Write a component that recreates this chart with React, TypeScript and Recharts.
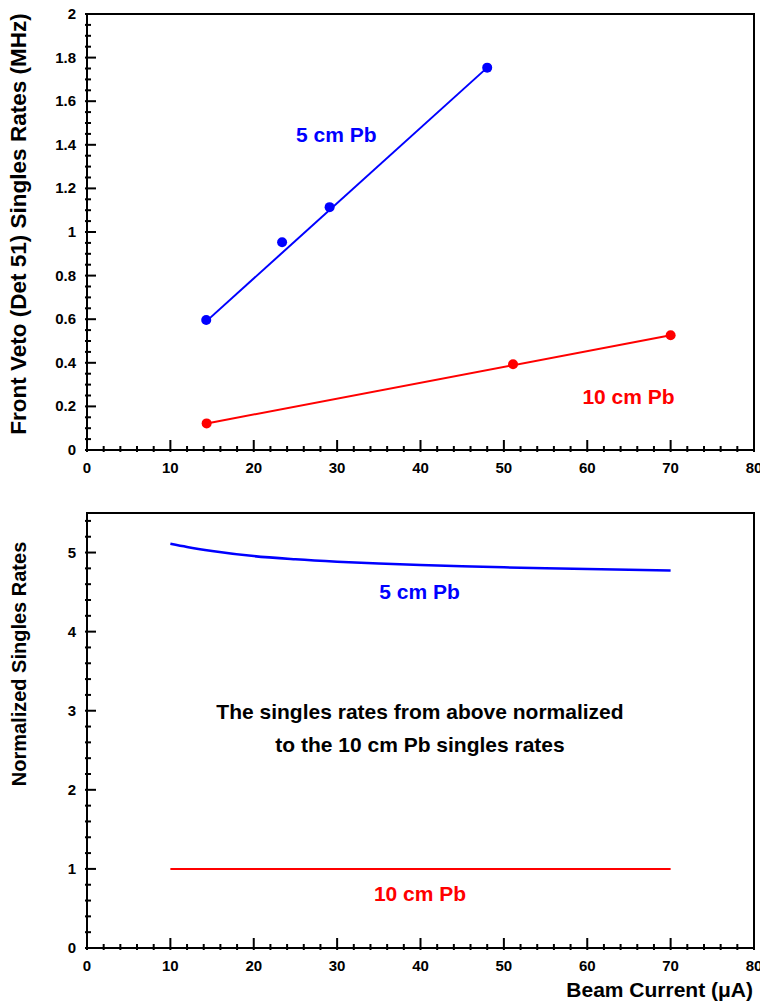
import { ComposedChart, XAxis, YAxis, Line, Scatter, ReferenceArea, ReferenceDot, Label } from 'recharts';

const FONT = '"Liberation Sans", Arial, Helvetica, sans-serif';
const BLUE = '#0000ff';
const RED = '#ff0000';

// top panel: measured singles rates (MHz) vs beam current (uA)
const current5cm = [14.3, 23.4, 29.1, 48.0];
const rate5cm = [0.596, 0.953, 1.114, 1.754];
const current10cm = [14.35, 51.1, 70.0];
const rate10cm = [0.122, 0.393, 0.526];
// straight-line fits, drawn between first and last point
const fit5cmX = [14.3, 48.0];
const fit5cmY = [0.59, 1.754];
const fit10cmX = [14.35, 70.0];
const fit10cmY = [0.122, 0.526];

// bottom panel: rates normalized to the 10 cm Pb fit
const ratioX = [10, 12, 15, 20, 25, 30, 35, 40, 45, 50, 55, 60, 65, 70];
const ratio5cm = [5.11, 5.07, 5.02, 4.955, 4.915, 4.885, 4.862, 4.843, 4.827, 4.813, 4.801, 4.791, 4.782, 4.774];
const ratio10cmX = [10, 70];
const ratio10cm = [1, 1];

// axis ticks
const xTicks = [0, 2, 4, 6, 8, 10, 12, 14, 16, 18, 20, 22, 24, 26, 28, 30, 32, 34, 36, 38, 40, 42, 44, 46, 48, 50, 52, 54, 56, 58, 60, 62, 64, 66, 68, 70, 72, 74, 76, 78, 80];
const xMajor = [0, 10, 20, 30, 40, 50, 60, 70, 80];
const yTopMajor = [0, 0.2, 0.4, 0.6, 0.8, 1, 1.2, 1.4, 1.6, 1.8, 2];
const yBotMajor = [0, 1, 2, 3, 4, 5];

const steps = (max: number, step: number) =>
  Array.from({ length: Math.floor(max / step + 1e-6) + 1 }, (_, i) => Math.round(i * step * 1000) / 1000);
const yTopTicks = steps(2, 0.05);
const yBotTicks = steps(5.5, 0.2);

const zip = (xs: number[], ys: number[]) => xs.map((x, i) => ({ x, y: ys[i] }));

const isIn = (list: number[], v: number) => list.some((m) => Math.abs(m - v) < 1e-6);

const XTick = ({ x, y, payload }: any) => {
  const major = isIn(xMajor, payload.value);
  return (
    <g>
      <line x1={x} x2={x} y1={y} y2={y - (major ? 12 : 6)} stroke="#000" strokeWidth={2} />
      {major && (
        <text x={x} y={y + 21} textAnchor="middle" fontFamily={FONT} fontWeight="bold" fontSize={15} fill="#000">
          {payload.value}
        </text>
      )}
    </g>
  );
};

const makeYTick = (majors: number[]) => ({ x, y, payload }: any) => {
  const major = isIn(majors, payload.value);
  return (
    <g>
      <line x1={x} x2={x + (major ? 11 : 6)} y1={y} y2={y} stroke="#000" strokeWidth={2} />
      {major && (
        <text x={x - 9} y={y + 5} textAnchor="end" fontFamily={FONT} fontWeight="bold" fontSize={15} fill="#000">
          {payload.value}
        </text>
      )}
    </g>
  );
};

const YTopTick = makeYTick(yTopMajor);
const YBotTick = makeYTick(yBotMajor);

const yTitle = (text: string, cy: number, size: number) => () => (
  <text
    x={26}
    y={cy}
    transform={`rotate(-90 26 ${cy})`}
    textAnchor="middle"
    fontFamily={FONT}
    fontWeight="bold"
    fontSize={size}
    fill="#000"
  >
    {text}
  </text>
);

const note = (value: string, fill: string) => ({
  value,
  position: 'center' as const,
  fill,
  fontSize: 21,
  fontWeight: 'bold',
  fontFamily: FONT,
});

const dot = (color: string) => (props: any) => <circle cx={props.cx} cy={props.cy} r={5} fill={color} />;

export default function App() {
  return (
    <div style={{ position: 'absolute', left: 0, top: 0, width: 760, height: 1002, background: '#fff' }}>
      <ComposedChart width={760} height={490} margin={{ top: 14, right: 6, left: 0, bottom: 0 }}>
        <XAxis
          type="number"
          dataKey="x"
          domain={[0, 80]}
          ticks={xTicks}
          interval={0}
          tickSize={0}
          tickLine={false}
          tick={<XTick />}
          height={40}
          axisLine={{ stroke: '#000', strokeWidth: 2 }}
        />
        <YAxis
          type="number"
          dataKey="y"
          domain={[0, 2]}
          ticks={yTopTicks}
          interval={0}
          tickSize={0}
          tickLine={false}
          tick={<YTopTick />}
          width={87}
          axisLine={{ stroke: '#000', strokeWidth: 2 }}
        >
          <Label content={yTitle('Front Veto (Det 51) Singles Rates (MHz)', 224, 22.5)} />
        </YAxis>
        <ReferenceArea x1={0} x2={80} y1={0} y2={2} fill="none" stroke="#000" strokeWidth={2} ifOverflow="visible" />
        <Line data={zip(fit5cmX, fit5cmY)} dataKey="y" stroke={BLUE} strokeWidth={2} dot={false} isAnimationActive={false} />
        <Line data={zip(fit10cmX, fit10cmY)} dataKey="y" stroke={RED} strokeWidth={2} dot={false} isAnimationActive={false} />
        <Scatter data={zip(current5cm, rate5cm)} dataKey="y" shape={dot(BLUE)} isAnimationActive={false} />
        <Scatter data={zip(current10cm, rate10cm)} dataKey="y" shape={dot(RED)} isAnimationActive={false} />
        <ReferenceDot x={29.9} y={1.446} r={0} stroke="none" fill="none" label={note('5 cm Pb', BLUE)} />
        <ReferenceDot x={64.95} y={0.245} r={0} stroke="none" fill="none" label={note('10 cm Pb', RED)} />
      </ComposedChart>

      <ComposedChart width={760} height={512} margin={{ top: 23, right: 6, left: 0, bottom: 0 }}>
        <XAxis
          type="number"
          dataKey="x"
          domain={[0, 80]}
          ticks={xTicks}
          interval={0}
          tickSize={0}
          tickLine={false}
          tick={<XTick />}
          height={54}
          axisLine={{ stroke: '#000', strokeWidth: 2 }}
        >
          <Label
            content={() => (
              <text x={753} y={507} textAnchor="end" fontFamily={FONT} fontWeight="bold" fontSize={21} fill="#000">
                Beam Current (μA)
              </text>
            )}
          />
        </XAxis>
        <YAxis
          type="number"
          dataKey="y"
          domain={[0, 5.5]}
          ticks={yBotTicks}
          interval={0}
          tickSize={0}
          tickLine={false}
          tick={<YBotTick />}
          width={87}
          axisLine={{ stroke: '#000', strokeWidth: 2 }}
        >
          <Label content={yTitle('Normalized Singles Rates', 174, 20)} />
        </YAxis>
        <ReferenceArea x1={0} x2={80} y1={0} y2={5.5} fill="none" stroke="#000" strokeWidth={2} ifOverflow="visible" />
        <Line data={zip(ratioX, ratio5cm)} dataKey="y" type="monotone" stroke={BLUE} strokeWidth={2.5} dot={false} isAnimationActive={false} />
        <Line data={zip(ratio10cmX, ratio10cm)} dataKey="y" stroke={RED} strokeWidth={2} dot={false} isAnimationActive={false} />
        <ReferenceDot x={39.88} y={4.507} r={0} stroke="none" fill="none" label={note('5 cm Pb', BLUE)} />
        <ReferenceDot x={39.94} y={2.99} r={0} stroke="none" fill="none" label={note('The singles rates from above normalized', '#000')} />
        <ReferenceDot x={39.94} y={2.573} r={0} stroke="none" fill="none" label={note('to the 10 cm Pb singles rates', '#000')} />
        <ReferenceDot x={39.94} y={0.689} r={0} stroke="none" fill="none" label={note('10 cm Pb', RED)} />
      </ComposedChart>
    </div>
  );
}
